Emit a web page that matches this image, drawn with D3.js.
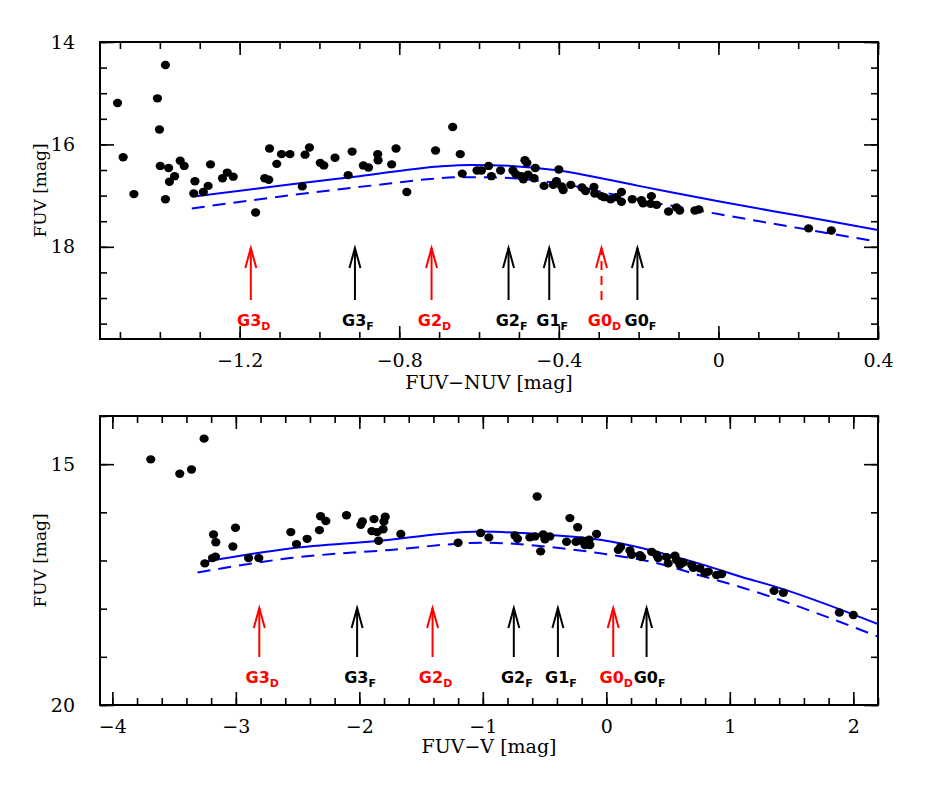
<!DOCTYPE html>
<html><head><meta charset="utf-8">
<script src="https://cdn.jsdelivr.net/npm/d3@7"></script>
<style>body{margin:0;background:#fff}svg{display:block}</style>
</head><body>
<svg id="c" width="926" height="790"></svg>
<script>
// ---------- DATA ----------
const topX = [-1.506,-1.492,-1.465,-1.406,-1.386,-1.401,-1.399,-1.378,-1.363,-1.376,-1.386,-1.349,-1.339,-1.312,-1.315,-1.291,-1.279,-1.273,-1.243,-1.231,-1.216,-1.160,-1.137,-1.127,-1.125,-1.107,-1.095,-1.074,-1.043,-1.036,-1.025,-0.998,-0.989,-0.961,-0.928,-0.918,-0.890,-0.877,-0.854,-0.853,-0.819,-0.808,-0.781,-0.709,-0.666,-0.647,-0.642,-0.605,-0.594,-0.576,-0.569,-0.546,-0.515,-0.508,-0.494,-0.489,-0.485,-0.480,-0.477,-0.462,-0.459,-0.437,-0.414,-0.406,-0.400,-0.393,-0.389,-0.370,-0.342,-0.333,-0.312,-0.310,-0.293,-0.286,-0.270,-0.256,-0.243,-0.243,-0.216,-0.193,-0.189,-0.168,-0.170,-0.155,-0.125,-0.105,-0.097,-0.059,-0.049,0.226,0.283];
const topY = [15.19,16.25,16.97,15.10,14.45,15.71,16.42,16.46,16.62,16.73,17.07,16.32,16.42,16.72,16.96,16.93,16.81,16.39,16.66,16.55,16.63,17.33,16.66,16.69,16.08,16.38,16.19,16.19,16.82,16.20,16.06,16.36,16.41,16.26,16.60,16.14,16.41,16.45,16.19,16.31,16.39,16.08,16.93,16.12,15.66,16.19,16.57,16.51,16.51,16.42,16.62,16.51,16.51,16.58,16.62,16.68,16.31,16.36,16.59,16.66,16.46,16.81,16.79,16.72,16.49,16.82,16.89,16.79,16.84,16.91,16.83,16.96,17.01,17.03,17.07,17.03,16.93,17.12,17.07,17.09,17.15,17.01,17.16,17.18,17.31,17.23,17.29,17.29,17.27,17.64,17.68];

const botX = [-3.689,-3.454,-3.359,-3.257,-3.251,-3.189,-3.165,-3.181,-3.162,-3.003,-3.024,-2.897,-2.814,-2.555,-2.509,-2.423,-2.323,-2.314,-2.271,-2.104,-1.988,-1.975,-1.881,-1.899,-1.856,-1.807,-1.801,-1.790,-1.844,-1.664,-1.200,-1.018,-0.951,-0.740,-0.719,-0.619,-0.578,-0.560,-0.532,-0.511,-0.497,-0.457,-0.322,-0.295,-0.232,-0.246,-0.200,-0.173,-0.139,-0.133,-0.079,0.097,0.116,0.191,0.205,0.272,0.286,0.367,0.407,0.420,0.488,0.501,0.556,0.569,0.596,0.623,0.691,0.704,0.758,0.799,0.826,0.893,0.934,1.358,1.433,1.887,2.000];
const botY = [14.90,15.20,15.11,14.47,17.06,16.95,16.92,16.46,16.62,16.32,16.71,16.95,16.95,16.41,16.66,16.55,16.37,16.08,16.18,16.06,16.26,16.19,16.14,16.39,16.41,16.35,16.19,16.09,16.59,16.45,16.63,16.43,16.52,16.48,16.55,16.52,16.50,15.67,16.81,16.46,16.56,16.50,16.61,16.12,16.31,16.61,16.59,16.68,16.57,16.68,16.45,16.78,16.72,16.79,16.88,16.89,16.93,16.82,16.88,16.95,16.93,17.06,16.90,16.99,17.09,17.04,17.09,17.15,17.16,17.26,17.23,17.30,17.28,17.63,17.67,18.08,18.13];

// model curves
const topSolidX = [-1.31,-1.07,-0.90,-0.70,-0.62,-0.52,-0.41,-0.20,0.0,0.2,0.4];
const topSolidY = [17.01,16.78,16.62,16.43,16.40,16.42,16.50,16.81,17.11,17.39,17.67];
const topDashX = [-1.32,-1.07,-0.82,-0.73,-0.64,-0.54,-0.41,-0.20,0.0,0.4];
const topDashY = [17.25,16.99,16.76,16.68,16.64,16.65,16.75,17.08,17.36,17.90];
const botSolidX = [-3.24,-2.56,-1.75,-1.35,-1.02,-0.46,-0.05,0.35,0.76,1.16,1.30,2.2];
const botSolidY = [17.02,16.75,16.57,16.45,16.40,16.47,16.57,16.78,17.07,17.39,17.49,18.32];
const botDashX = [-3.31,-2.56,-1.75,-0.99,-0.46,-0.05,0.35,0.76,1.11,2.2];
const botDashY = [17.25,16.95,16.78,16.63,16.72,16.85,17.02,17.31,17.57,18.58];

// arrows / group markers
const arrowMain = ["G3","G3","G2","G2","G1","G0","G0"];
const arrowSub  = ["D","F","D","F","F","D","F"];
const arrowRed  = [true,false,true,false,false,true,false];
const topArrowX = [-1.172,-0.911,-0.719,-0.526,-0.424,-0.293,-0.203];
const topArrowDashed = [false,false,false,false,false,true,false];
const botArrowX = [-2.81,-2.018,-1.407,-0.749,-0.392,0.056,0.326];

// axis ticks
const topXMajor = [-1.2,-0.8,-0.4,0,0.4];
const topXLabels = ["\u22121.2","\u22120.8","\u22120.4","0","0.4"];
const topXMinor = d3.range(-15,5).map(d=>d/10);
const topYMajor = [14,16,18];
const topYMinor = d3.range(28,40).map(d=>d/2);
const botXMajor = [-4,-3,-2,-1,0,1,2];
const botXLabels = ["\u22124","\u22123","\u22122","\u22121","0","1","2"];
const botXMinor = d3.range(-20,12).map(d=>d/5);
const botYMajor = [15,20];
const botYMinor = [14,15,16,17,18,19,20];

// ---------- DRAW ----------
const svg = d3.select("#c");
const L = 100, R = 878;
const serif = "'DejaVu Serif', serif";

function panel(cfg){
  const x = d3.scaleLinear().domain(cfg.xd).range([L,R]);
  const y = d3.scaleLinear().domain(cfg.yd).range([cfg.top,cfg.bot]);
  const g = svg.append("g");
  const fmtMaj = (labels, major)=> (d)=> labels[major.indexOf(d)];
  const mk = (axis, tr)=> g.append("g").attr("transform",tr).call(axis)
      .call(s=>s.select(".domain").remove())
      .call(s=>s.selectAll(".tick line").attr("stroke","#000").attr("stroke-width",1.6));
  mk(d3.axisBottom(x).tickValues(cfg.xMinor).tickSize(-7).tickFormat(""), `translate(0,${cfg.bot})`);
  mk(d3.axisTop(x).tickValues(cfg.xMinor).tickSize(-7).tickFormat(""), `translate(0,${cfg.top})`);
  mk(d3.axisLeft(y).tickValues(cfg.yMinor).tickSize(-7).tickFormat(""), `translate(${L},0)`);
  mk(d3.axisRight(y).tickValues(cfg.yMinor).tickSize(-7).tickFormat(""), `translate(${R},0)`);
  const bx = mk(d3.axisBottom(x).tickValues(cfg.xMajor).tickSize(-13).tickPadding(22).tickFormat(fmtMaj(cfg.xLabels,cfg.xMajor)), `translate(0,${cfg.bot})`);
  mk(d3.axisTop(x).tickValues(cfg.xMajor).tickSize(-13).tickFormat(""), `translate(0,${cfg.top})`);
  const ly = mk(d3.axisLeft(y).tickValues(cfg.yMajor).tickSize(-14).tickPadding(25).tickFormat(d=>String(d)), `translate(${L},0)`);
  mk(d3.axisRight(y).tickValues(cfg.yMajor).tickSize(-14).tickFormat(""), `translate(${R},0)`);
  bx.selectAll("text").attr("font-family",serif).attr("font-size",19).attr("fill","#000").attr("dy","0.32em").attr("y",22);
  ly.selectAll("text").attr("font-family",serif).attr("font-size",19).attr("fill","#000");
  g.append("rect").attr("x",L).attr("y",cfg.top).attr("width",R-L).attr("height",cfg.bot-cfg.top)
    .attr("fill","none").attr("stroke","#000").attr("stroke-width",2);
  const cid = "clip"+cfg.id;
  svg.append("clipPath").attr("id",cid).append("rect").attr("x",L).attr("y",cfg.top).attr("width",R-L).attr("height",cfg.bot-cfg.top);
  const pg = g.append("g").attr("clip-path",`url(#${cid})`);
  const line = d3.line().x(d=>x(d[0])).y(d=>y(d[1])).curve(d3.curveMonotoneX);
  pg.append("path").datum(d3.zip(cfg.sx,cfg.sy)).attr("d",line).attr("fill","none").attr("stroke","#0000ff").attr("stroke-width",2);
  pg.append("path").datum(d3.zip(cfg.dx,cfg.dy)).attr("d",line).attr("fill","none").attr("stroke","#0000ff").attr("stroke-width",2).attr("stroke-dasharray","13,8");
  pg.selectAll("ellipse").data(d3.zip(cfg.px,cfg.py)).join("ellipse")
    .attr("cx",d=>x(d[0])).attr("cy",d=>y(d[1])).attr("rx",4.6).attr("ry",4.2).attr("fill","#000");
  cfg.ax.forEach((v,i)=>{
    const col = arrowRed[i] ? "#ff0000" : "#000";
    const xp = x(v);
    const a = g.append("g").attr("stroke",col).attr("stroke-width",2).attr("fill","none");
    const ln = a.append("line").attr("x1",xp).attr("x2",xp).attr("y1",cfg.aBot).attr("y2",cfg.aTip);
    if (cfg.aDash && cfg.aDash[i]) { ln.attr("stroke-dasharray","9,6"); }
    a.append("path").attr("d",`M${xp-5.5},${cfg.aTip+20}L${xp},${cfg.aTip}L${xp+5.5},${cfg.aTip+20}`);
    const t = g.append("text").attr("x",xp+3).attr("y",cfg.lab).attr("text-anchor","middle")
      .attr("font-family","'DejaVu Sans', sans-serif").attr("font-weight","bold").attr("font-size",16).attr("fill",col);
    t.append("tspan").text(arrowMain[i]);
    t.append("tspan").attr("dy",4).attr("font-size",11).text(arrowSub[i]);
  });
  g.append("text").attr("x",(L+R)/2).attr("y",cfg.xt).attr("text-anchor","middle")
    .attr("font-family",serif).attr("font-size",19).text(cfg.xTitle);
  g.append("text").attr("transform",`translate(46,${(cfg.top+cfg.bot)/2}) rotate(-90)`).attr("text-anchor","middle")
    .attr("font-family",serif).attr("font-size",17).text("FUV [mag]");
}

panel({id:1, xd:[-1.55,0.4], yd:[14,19.8], top:42, bot:339,
  xMinor:topXMinor, xMajor:topXMajor, xLabels:topXLabels, yMinor:topYMinor, yMajor:topYMajor,
  px:topX, py:topY, sx:topSolidX, sy:topSolidY, dx:topDashX, dy:topDashY,
  ax:topArrowX, aDash:topArrowDashed, aTip:248, aBot:300, lab:326, xt:389, xTitle:"FUV\u2212NUV [mag]"});

panel({id:2, xd:[-4.1,2.2], yd:[14,20], top:416, bot:705,
  xMinor:botXMinor, xMajor:botXMajor, xLabels:botXLabels, yMinor:botYMinor, yMajor:botYMajor,
  px:botX, py:botY, sx:botSolidX, sy:botSolidY, dx:botDashX, dy:botDashY,
  ax:botArrowX, aDash:null, aTip:608, aBot:657, lab:683, xt:753, xTitle:"FUV\u2212V [mag]"});
</script>
</body></html>
